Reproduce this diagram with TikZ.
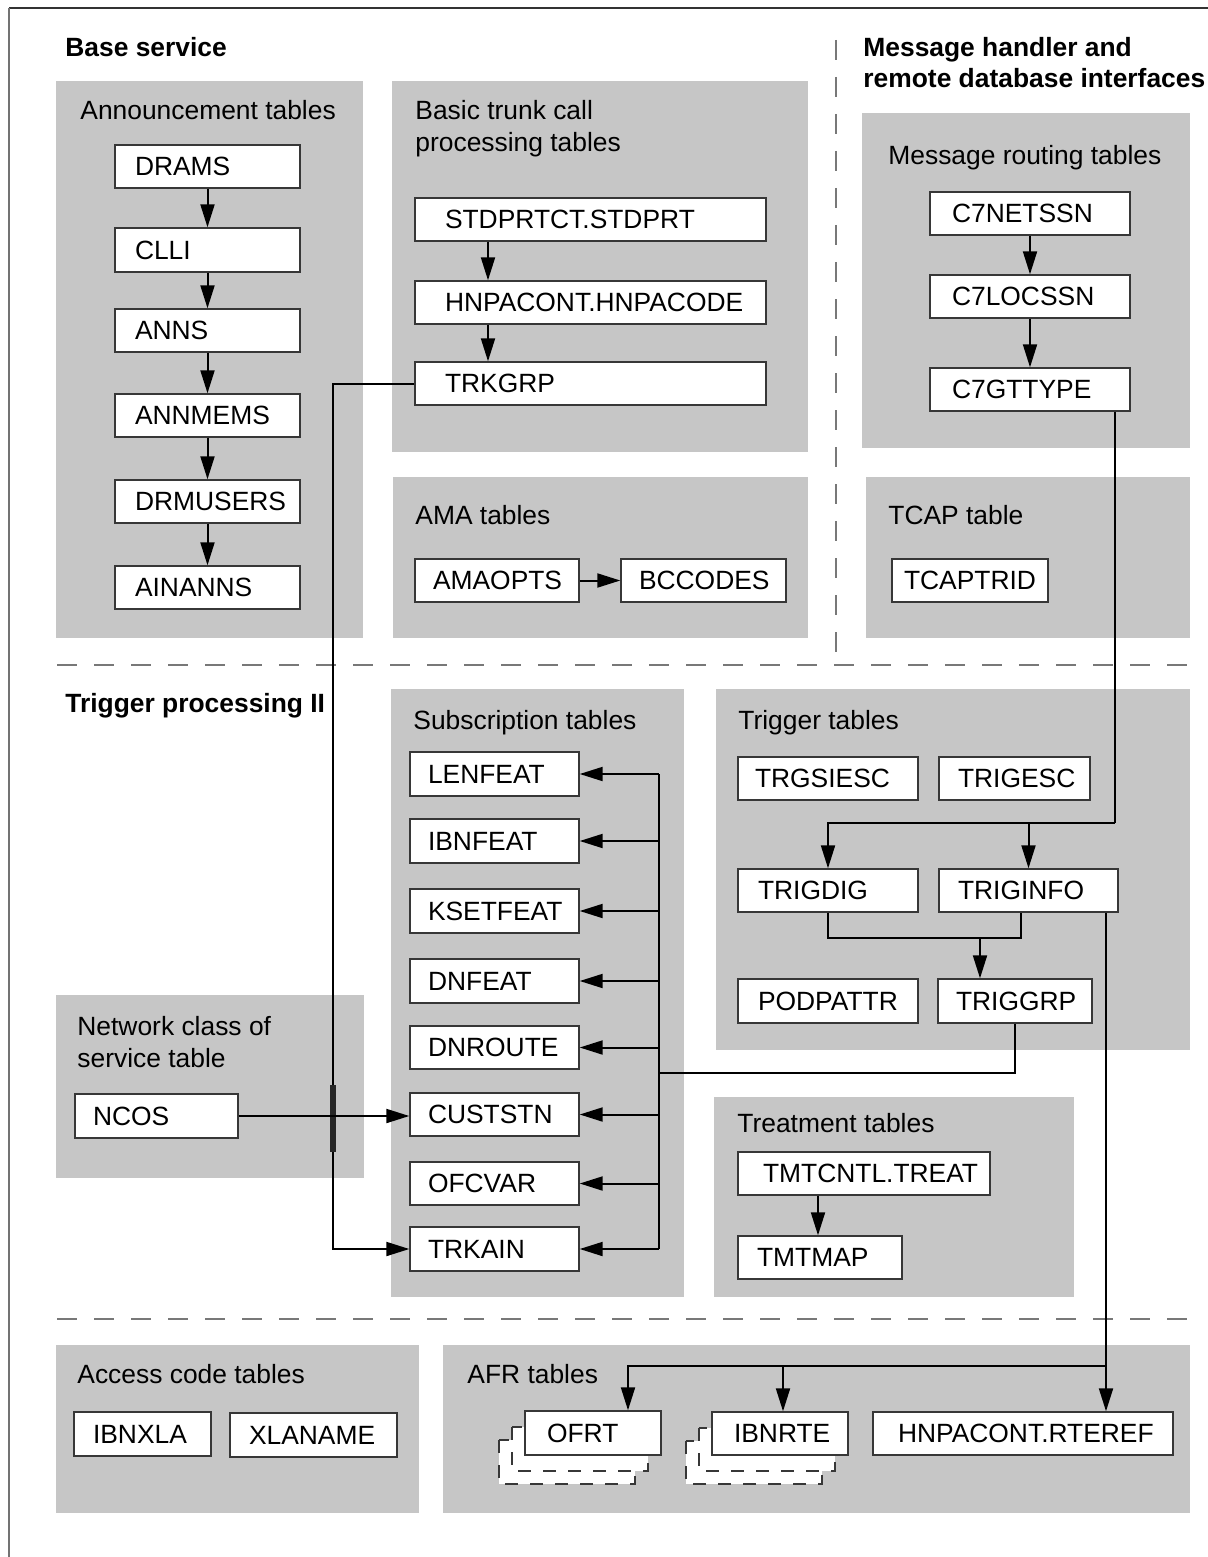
\documentclass[tikz,border=0pt]{standalone}
\usepackage{fontspec}
\setmainfont{Liberation Sans}
\usetikzlibrary{arrows.meta,calc}
\definecolor{panelgray}{RGB}{198,198,198}
\definecolor{boxline}{RGB}{55,55,55}
\definecolor{sepgray}{RGB}{120,120,120}
% name, x1, y1, x2, y2, indent, text   (pixel units)
\newcommand{\tbox}[7]{%
  \pgfmathsetmacro{\tbI}{#6*0.5}%
  \pgfmathsetmacro{\tbT}{(#4-#2-2*#6)*0.5}%
  \pgfmathsetmacro{\tbH}{(#5-#3)*0.5}%
  \node[tbl, inner xsep=\tbI pt, minimum height=\tbH pt] (#1) at ({(#2+#4)/2},{(#3+#5)/2}) {\makebox[\tbT pt][l]{#7}};%
}
\newcommand{\stackshape}[4]{%
  \draw[stackline] (#1-26,#2+29) rectangle (#3-26,#4+29);
  \draw[stackline] (#1-13,#2+16) rectangle (#3-13,#4+16);
}
\begin{document}
\begin{tikzpicture}[x=0.5pt,y=-0.5pt,
  tbl/.style={draw=boxline, line width=0.7pt, fill=white, rectangle, inner ysep=0pt, font=\fontsize{13.2}{16}\selectfont},
  ttl/.style={inner sep=0pt, anchor=base west, font=\fontsize{13.2}{16}\selectfont},
  hdr/.style={inner sep=0pt, anchor=base west, font=\fontsize{13.2}{16}\selectfont\bfseries},
  conn/.style={line width=1pt, black},
  arr/.style={-{Triangle[length=11.5pt,width=7pt]}},
  panel/.style={fill=panelgray},
  sepline/.style={draw=sepgray, line width=0.75pt, dash pattern=on 10pt off 8.5pt},
  stackline/.style={draw=boxline, fill=white, line width=0.7pt, dash pattern=on 6.5pt off 6pt}
]
\useasboundingbox (0,0) rectangle (1208,1557);
% outer frame (top and left)
\draw[line width=0.8pt, draw=black!80] (9,8) -- (1208,8);
\draw[line width=0.8pt, draw=black!55] (9,8) -- (9,1557);

% panels
\fill[panel] (56,81) rectangle (363,638);
\fill[panel] (392,81) rectangle (808,452);
\fill[panel] (393,477) rectangle (808,638);
\fill[panel] (862,113) rectangle (1190,448);
\fill[panel] (866,477) rectangle (1190,638);
\fill[panel] (391,689) rectangle (684,1297);
\fill[panel] (716,689) rectangle (1190,1050);
\fill[panel] (56,995) rectangle (364,1178);
\fill[panel] (714,1097) rectangle (1074,1297);
\fill[panel] (443,1345) rectangle (1190,1513);
\fill[panel] (56,1345) rectangle (419,1513);

% separators
\draw[sepline] (57,665) -- (1190,665);
\draw[sepline] (57,1319) -- (1190,1319);
\draw[sepline] (836,40) -- (836,665);

% headers
\node[hdr] (h-base) at (65,57) {Base service};
\node[hdr] (h-msg1) at (863,57) {Message handler and};
\node[hdr] (h-msg2) at (863,88) {remote database interfaces};
\node[hdr] (h-trig) at (65,712) {Trigger processing II};

% panel titles
\node[ttl] (t-ann) at (80,120) {Announcement tables};
\node[ttl] (t-bas1) at (415,120) {Basic trunk call};
\node[ttl] (t-bas2) at (415,152) {processing tables};
\node[ttl] (t-ama) at (415,524) {AMA tables};
\node[ttl] (t-msg) at (888,165) {Message routing tables};
\node[ttl] (t-tcap) at (888,524) {TCAP table};
\node[ttl] (t-sub) at (413,729) {Subscription tables};
\node[ttl] (t-trig) at (738,729) {Trigger tables};
\node[ttl] (t-net1) at (77,1035) {Network class of};
\node[ttl] (t-net2) at (77,1067) {service table};
\node[ttl] (t-tmt) at (737,1132) {Treatment tables};
\node[ttl] (t-afr) at (467,1383) {AFR tables};
\node[ttl] (t-acc) at (77,1383) {Access code tables};

% stacked (dashed) shapes behind OFRT and IBNRTE
\stackshape{525}{1411}{661}{1455}
\stackshape{712}{1412}{848}{1455}

% boxes
\tbox{drams}{115}{145}{300}{188}{20}{DRAMS}
\tbox{clli}{115}{228}{300}{272}{20}{CLLI}
\tbox{anns}{115}{309}{300}{352}{20}{ANNS}
\tbox{annmems}{115}{394}{300}{437}{20}{ANNMEMS}
\tbox{drmusers}{115}{480}{300}{523}{20}{DRMUSERS}
\tbox{ainanns}{115}{566}{300}{609}{20}{AINANNS}

\tbox{stdprt}{415}{198}{766}{241}{30}{STDPRTCT.STDPRT}
\tbox{hnpacode}{415}{281}{766}{324}{30}{HNPACONT.HNPACODE}
\tbox{trkgrp}{415}{362}{766}{405}{30}{TRKGRP}

\tbox{amaopts}{415}{559}{579}{602}{18}{AMAOPTS}
\tbox{bccodes}{621}{559}{786}{602}{18}{BCCODES}

\tbox{c7netssn}{930}{192}{1130}{235}{22}{C7NETSSN}
\tbox{c7locssn}{930}{275}{1130}{318}{22}{C7LOCSSN}
\tbox{c7gttype}{930}{368}{1130}{411}{22}{C7GTTYPE}

\tbox{tcaptrid}{892}{559}{1048}{602}{12}{TCAPTRID}

\tbox{lenfeat}{410}{752}{579}{796}{18}{LENFEAT}
\tbox{ibnfeat}{410}{819}{579}{863}{18}{IBNFEAT}
\tbox{ksetfeat}{410}{889}{579}{933}{18}{KSETFEAT}
\tbox{dnfeat}{410}{959}{579}{1003}{18}{DNFEAT}
\tbox{dnroute}{410}{1026}{579}{1069}{18}{DNROUTE}
\tbox{custstn}{410}{1093}{579}{1136}{18}{CUSTSTN}
\tbox{ofcvar}{410}{1162}{579}{1205}{18}{OFCVAR}
\tbox{trkain}{410}{1227}{579}{1271}{18}{TRKAIN}

\tbox{trgsiesc}{738}{757}{918}{800}{17}{TRGSIESC}
\tbox{trigesc}{939}{757}{1090}{800}{19}{TRIGESC}
\tbox{trigdig}{738}{869}{918}{912}{20}{TRIGDIG}
\tbox{triginfo}{939}{869}{1118}{912}{19}{TRIGINFO}
\tbox{podpattr}{738}{979}{918}{1023}{20}{PODPATTR}
\tbox{triggrp}{938}{979}{1092}{1023}{18}{TRIGGRP}

\tbox{ncos}{75}{1094}{238}{1138}{18}{NCOS}

\tbox{tmtcntl}{738}{1152}{990}{1195}{25}{TMTCNTL.TREAT}
\tbox{tmtmap}{738}{1236}{902}{1279}{19}{TMTMAP}

\tbox{ofrt}{525}{1411}{661}{1455}{22}{OFRT}
\tbox{ibnrte}{712}{1412}{848}{1455}{22}{IBNRTE}
\tbox{rteref}{873}{1412}{1173}{1455}{25}{HNPACONT.RTEREF}

\tbox{ibnxla}{74}{1412}{211}{1456}{19}{IBNXLA}
\tbox{xlaname}{230}{1413}{397}{1457}{19}{XLANAME}

% helper coordinates
\coordinate (cbas) at (488,0);
\coordinate (jtrk) at (333,800);
\coordinate (bus) at (659,0);
\coordinate (jtg) at (1015,1073);
\coordinate (jc7) at (1115,823);
\coordinate (jtb) at (1021,938);
\coordinate (jtc) at (980,938);
\coordinate (jaf) at (1106,1366);
\coordinate (cofrt) at (628,1366);
\coordinate (cibn) at (783,1366);
\coordinate (ctmt) at (818,0);

% announcement chain
\draw[conn,arr] (drams.south) -- (clli.north);
\draw[conn,arr] (clli.south) -- (anns.north);
\draw[conn,arr] (anns.south) -- (annmems.north);
\draw[conn,arr] (annmems.south) -- (drmusers.north);
\draw[conn,arr] (drmusers.south) -- (ainanns.north);

% basic trunk chain
\draw[conn,arr] (stdprt.south -| cbas) -- (hnpacode.north -| cbas);
\draw[conn,arr] (hnpacode.south -| cbas) -- (trkgrp.north -| cbas);

% AMA
\draw[conn,arr] (amaopts.east) -- (bccodes.west);

% message routing chain
\draw[conn,arr] (c7netssn.south) -- (c7locssn.north);
\draw[conn,arr] (c7locssn.south) -- (c7gttype.north);

% TRKGRP to TRKAIN
\draw[conn,arr] (trkgrp.west) -| (jtrk) |- (trkain.west);
\draw[line width=2.6pt, black!85] (333,1085) -- (333,1152);

% NCOS to CUSTSTN
\draw[conn,arr] (ncos.east) -- (ncos.east -| custstn.west);

% subscription bus
\draw[conn] (lenfeat.east -| bus) -- (trkain.east -| bus);
\foreach \b in {lenfeat,ibnfeat,ksetfeat,dnfeat,dnroute,custstn,ofcvar,trkain}
  \draw[conn,arr] (\b.east -| bus) -- (\b.east);

% TRIGGRP to bus
\draw[conn] (triggrp.south -| jtg) -- (jtg) -- (jtg -| bus);

% C7GTTYPE to TRIGDIG / TRIGINFO
\draw[conn] (c7gttype.south -| jc7) -- (jc7);
\draw[conn,arr] (jc7) -| (trigdig.north);
\draw[conn,arr] (jc7 -| triginfo.north) -- (triginfo.north);

% TRIGDIG / TRIGINFO to TRIGGRP
\draw[conn] (trigdig.south) |- (jtb) -- (jtb |- triginfo.south);
\draw[conn,arr] (jtc) -- (jtc |- triggrp.north);

% TRIGINFO to AFR tables
\draw[conn,arr] (jaf |- triginfo.south) -- (jaf |- rteref.north);
\draw[conn,arr] (jaf) -- (cofrt) -- (cofrt |- ofrt.north);
\draw[conn,arr] (cibn) -- (cibn |- ibnrte.north);

% treatment
\draw[conn,arr] (tmtcntl.south -| ctmt) -- (tmtmap.north -| ctmt);
\end{tikzpicture}
\end{document}
